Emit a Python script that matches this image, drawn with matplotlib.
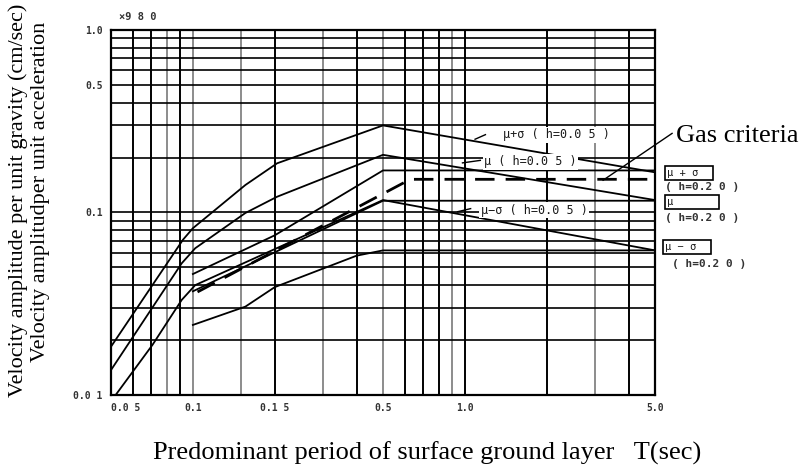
import matplotlib
matplotlib.use('Agg')
import matplotlib.pyplot as plt

# velocity amplitude (x980) against predominant period T (sec)
t_mps05 = [0.05, 0.092, 0.1, 0.156, 0.204, 0.5, 5.0]
v_mps05 = [0.0184, 0.071, 0.082, 0.1415, 0.186, 0.30, 0.166]
t_mu05 = [0.05, 0.091, 0.102, 0.156, 0.204, 0.5, 5.0]
v_mu05 = [0.0137, 0.0527, 0.0637, 0.0994, 0.122, 0.207, 0.117]
t_mms05 = [0.052, 0.071, 0.091, 0.102, 0.5, 5.0]
v_mms05 = [0.01, 0.0188, 0.0332, 0.040, 0.117, 0.062]

t_mps20 = [0.1, 0.2, 0.5, 5.0]
v_mps20 = [0.046, 0.075, 0.17, 0.17]
t_mu20 = [0.1, 0.5, 5.0]
v_mu20 = [0.037, 0.116, 0.116]
t_mms20 = [0.1, 0.156, 0.2, 0.4, 0.5, 5.0]
v_mms20 = [0.0242, 0.0305, 0.039, 0.058, 0.062, 0.062]

t_gas = [0.104, 0.63, 5.0]
v_gas = [0.0367, 0.152, 0.152]

# grid
xgrid = [0.06, 0.07, 0.08, 0.09, 0.1, 0.15, 0.2, 0.3, 0.4, 0.5, 0.6, 0.7, 0.8, 0.9, 1.0, 2.0, 3.0, 4.0]
xgrid_col = ['k', 'k', '0.55', 'k', '0.55', '0.55', 'k', '0.55', 'k', '0.55',
             'k', 'k', 'k', '0.55', 'k', 'k', '0.55', 'k']
ygrid = [0.02, 0.03, 0.04, 0.05, 0.06, 0.07, 0.08, 0.09, 0.1,
         0.2, 0.3, 0.4, 0.5, 0.6, 0.7, 0.8, 0.9]

xticks = [0.05, 0.1, 0.2, 0.5, 1.0, 5.0]
xticklabels = ['0.0 5', '0.1', '0.1 5', '0.5', '1.0', '5.0']
yticks = [0.01, 0.1, 0.5, 1.0]
yticklabels = ['0.0 1', '0.1', '0.5', '1.0']

mono = 'DejaVu Sans Mono'
serif = 'Liberation Serif'

fig = plt.figure(figsize=(8.02, 4.73), dpi=100)
ax = fig.add_axes([0.1384, 0.1649, 0.6783, 0.7717])
ax.set_xscale('log')
ax.set_yscale('log')
ax.set_xlim(0.05, 5.0)
ax.set_ylim(0.01, 1.0)

for x, c in zip(xgrid, xgrid_col):
    ax.axvline(x, color=c, lw=1.4, zorder=1)
for y in ygrid:
    ax.axhline(y, color='k', lw=1.2, zorder=1)

lw = 1.3
ax.plot(t_mps05, v_mps05, color='k', lw=lw, zorder=3)
ax.plot(t_mu05, v_mu05, color='k', lw=lw, zorder=3)
ax.plot(t_mms05, v_mms05, color='k', lw=lw, zorder=3)
ax.plot(t_mps20, v_mps20, color='k', lw=lw, zorder=3)
ax.plot(t_mu20, v_mu20, color='k', lw=lw, zorder=3)
ax.plot(t_mms20, v_mms20, color='k', lw=lw, zorder=3)
ax.plot(t_gas, v_gas, color='k', lw=2.0, ls=(0, (7, 4)), zorder=3)

for s in ax.spines.values():
    s.set_linewidth(1.6)
ax.minorticks_off()
ax.set_xticks(xticks)
ax.set_xticklabels(xticklabels, family=mono, fontsize=7, fontweight='bold', color='0.2')
ax.set_yticks(yticks)
ax.set_yticklabels(yticklabels, family=mono, fontsize=7, fontweight='bold', color='0.2')
ax.tick_params(length=0, pad=6)
ax.get_xticklabels()[0].set_horizontalalignment('left')

ax.text(0.014, 1.022, '\u00d79 8 0', transform=ax.transAxes, family=mono,
        fontsize=7.5, fontweight='bold', color='0.2', va='bottom')

lab = dict(family=mono, fontsize=8.5, color='0.1', ha='center', va='center', zorder=4,
           bbox=dict(facecolor='white', edgecolor='none', pad=1))
ax.text(2.17, 0.266, '\u03bc+\u03c3 ( h=0.0 5 )', **lab)
ax.text(1.74, 0.19, '\u03bc ( h=0.0 5 )', **lab)
ax.text(1.8, 0.103, '\u03bc\u2212\u03c3 ( h=0.0 5 )', **lab)
ax.plot([1.09, 1.19], [0.252, 0.267], color='k', lw=1, zorder=4)
ax.plot([0.98, 1.14], [0.187, 0.193], color='k', lw=1, zorder=4)
ax.plot([0.94, 1.05], [0.101, 0.105], color='k', lw=1, zorder=4)

# right-hand labels for the h=0.20 curves
boxed = dict(family=mono, fontsize=7.5, color='0.1', va='center',
             bbox=dict(facecolor='white', edgecolor='k', lw=1.2, pad=1.5))
small = dict(family=mono, fontsize=8, fontweight='bold', color='0.2', va='center')
fig.text(0.832, 0.635, '\u03bc + \u03c3  ', **boxed)
fig.text(0.829, 0.605, '( h=0.2 0 )', **small)
fig.text(0.832, 0.573, '\u03bc       ', **boxed)
fig.text(0.829, 0.539, '( h=0.2 0 )', **small)
fig.text(0.829, 0.477, '\u03bc \u2212 \u03c3  ', **boxed)
fig.text(0.838, 0.442, '( h=0.2 0 )', **small)

fig.text(0.843, 0.712, 'Gas criteria', family=serif, fontsize=19, va='center')
fig.add_artist(plt.Line2D([0.838, 0.752], [0.718, 0.619], color='k', lw=1))

fig.text(0.022, 0.577, 'Velocity amplitude per unit gravity (cm/sec)', family=serif,
         fontsize=16, rotation=90, ha='center', va='center')
fig.text(0.05, 0.594, 'Velocity amplitudper unit acceleration', family=serif,
         fontsize=16, rotation=90, ha='center', va='center')
fig.text(0.532, 0.042, 'Predominant period of surface ground layer   T(sec)', family=serif,
         fontsize=19, ha='center', va='center')

fig.savefig('out.png', dpi=100)
